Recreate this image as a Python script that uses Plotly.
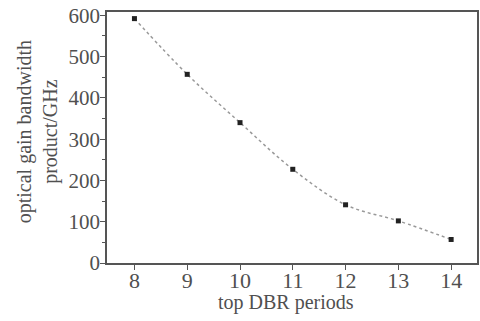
import plotly.graph_objects as go

periods = [8, 9, 10, 11, 12, 13, 14]
gbp = [592, 457, 340, 227, 141, 102, 57]
y_ticks = [0, 100, 200, 300, 400, 500, 600]

font = "Liberation Serif, Times New Roman, serif"
fig = go.Figure()
fig.add_trace(go.Scatter(
    x=periods, y=gbp, mode="lines+markers",
    line=dict(color="#999999", width=1.5, dash="dot", shape="spline"),
    marker=dict(symbol="square", size=5, color="#222222"),
    showlegend=False))

axcol = "#555555"
txtcol = "#505050"
fig.update_layout(
    width=480, height=321,
    margin=dict(l=107, r=3, t=12, b=58, autoexpand=False),
    paper_bgcolor="white", plot_bgcolor="white",
    font=dict(family=font, size=21, color=txtcol),
    xaxis=dict(range=[7.48, 14.49], tickvals=periods, ticks="outside", ticklen=5,
               tickcolor=axcol, showline=True, linecolor=axcol, linewidth=1.5,
               mirror=True, showgrid=False, zeroline=False, automargin=False,
               tickfont=dict(size=22), ticklabelstandoff=-8),
    yaxis=dict(range=[0, 608], tickvals=y_ticks, ticks="outside",
               ticklen=5, tickcolor=axcol, showline=True, linecolor=axcol,
               linewidth=1.5, mirror=True, showgrid=False, zeroline=False,
               automargin=False, tickfont=dict(size=21), ticklabelstandoff=-4,
               minor=dict(dtick=50, ticks="outside", ticklen=3, tickcolor=axcol)),
    annotations=[
        dict(text="optical gain bandwidth<br>product/GHz", textangle=-90,
             xref="paper", yref="paper", x=-0.187, y=0.524,
             xanchor="center", yanchor="middle", showarrow=False,
             font=dict(size=20, family=font, color=txtcol)),
        dict(text="top DBR periods", xref="paper", yref="paper",
             x=0.484, y=-0.159, xanchor="center", yanchor="middle",
             showarrow=False, font=dict(size=20, family=font, color=txtcol)),
    ],
)
fig.write_html("out.html", config={"displayModeBar": False},
               post_script="document.body.style.margin='0';")
